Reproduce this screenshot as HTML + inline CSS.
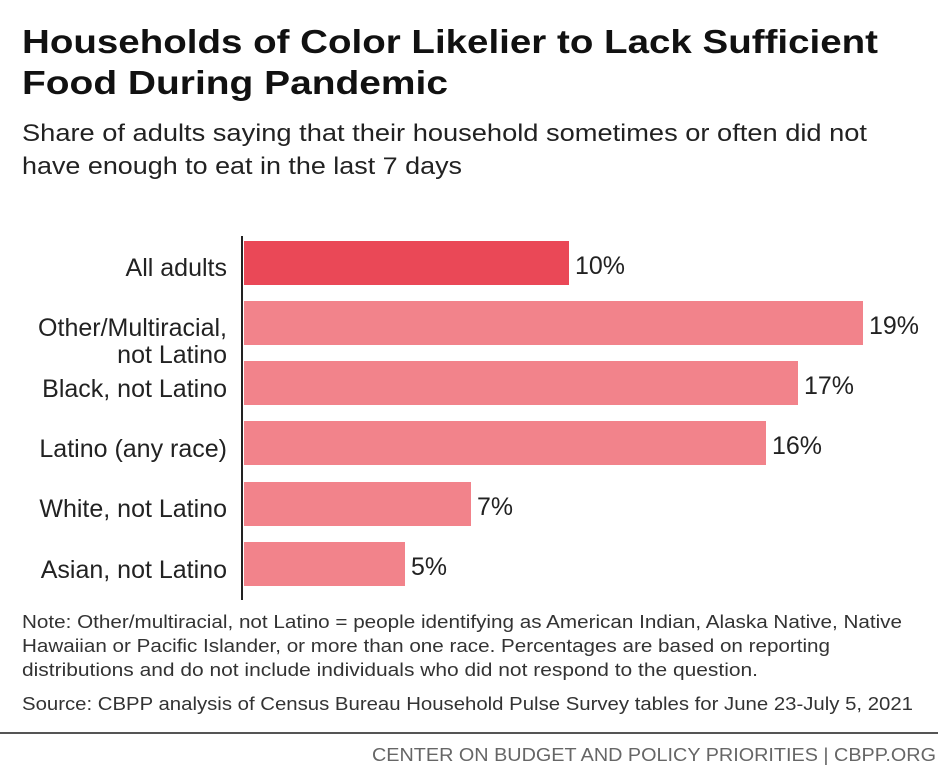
<!DOCTYPE html>
<html><head><meta charset="utf-8"><style>
html,body{margin:0;padding:0;background:#fff;}
svg{display:block;}
text{font-family:"Liberation Sans",sans-serif;}
</style></head><body>
<svg width="938" height="778" viewBox="0 0 938 778">
<text x="22" y="53" font-size="33" font-weight="bold" fill="#111" textLength="856" lengthAdjust="spacingAndGlyphs">Households of Color Likelier to Lack Sufficient</text>
<text x="22" y="94" font-size="33" font-weight="bold" fill="#111" textLength="426" lengthAdjust="spacingAndGlyphs">Food During Pandemic</text>
<text x="22" y="141" font-size="24" fill="#222" textLength="845" lengthAdjust="spacingAndGlyphs">Share of adults saying that their household sometimes or often did not</text>
<text x="22" y="174" font-size="24" fill="#222" textLength="440" lengthAdjust="spacingAndGlyphs">have enough to eat in the last 7 days</text>

<rect x="244" y="241" width="325" height="44" fill="#ea4857"/>
<rect x="244" y="301" width="619" height="44" fill="#f2838b"/>
<rect x="244" y="361" width="554" height="44" fill="#f2838b"/>
<rect x="244" y="421" width="522" height="44" fill="#f2838b"/>
<rect x="244" y="482" width="227" height="44" fill="#f2838b"/>
<rect x="244" y="542" width="161" height="44" fill="#f2838b"/>
<rect x="241" y="236" width="2" height="364" fill="#222"/>

<g font-size="25" fill="#222">
<text x="575" y="274" textLength="50" lengthAdjust="spacingAndGlyphs">10%</text>
<text x="869" y="334" textLength="50" lengthAdjust="spacingAndGlyphs">19%</text>
<text x="804" y="394" textLength="50" lengthAdjust="spacingAndGlyphs">17%</text>
<text x="772" y="454" textLength="50" lengthAdjust="spacingAndGlyphs">16%</text>
<text x="477" y="515" textLength="36" lengthAdjust="spacingAndGlyphs">7%</text>
<text x="411" y="575" textLength="36" lengthAdjust="spacingAndGlyphs">5%</text>
</g>
<g font-size="25" fill="#222" text-anchor="end">
<text x="227" y="276">All adults</text>
<text x="227" y="336">Other/Multiracial,</text>
<text x="227" y="363">not Latino</text>
<text x="227" y="397">Black, not Latino</text>
<text x="227" y="457">Latino (any race)</text>
<text x="227" y="517">White, not Latino</text>
<text x="227" y="578">Asian, not Latino</text>
</g>

<g font-size="18" fill="#333">
<text x="22" y="628" textLength="880" lengthAdjust="spacingAndGlyphs">Note: Other/multiracial, not Latino = people identifying as American Indian, Alaska Native, Native</text>
<text x="22" y="652" textLength="808" lengthAdjust="spacingAndGlyphs">Hawaiian or Pacific Islander, or more than one race. Percentages are based on reporting</text>
<text x="22" y="676" textLength="736" lengthAdjust="spacingAndGlyphs">distributions and do not include individuals who did not respond to the question.</text>
<text x="22" y="710" textLength="891" lengthAdjust="spacingAndGlyphs">Source: CBPP analysis of Census Bureau Household Pulse Survey tables for June 23-July 5, 2021</text>
</g>
<rect x="0" y="732" width="938" height="2" fill="#555"/>
<text x="936" y="761" font-size="18" fill="#666" text-anchor="end" textLength="564" lengthAdjust="spacingAndGlyphs">CENTER ON BUDGET AND POLICY PRIORITIES | CBPP.ORG</text>
</svg>
</body></html>
